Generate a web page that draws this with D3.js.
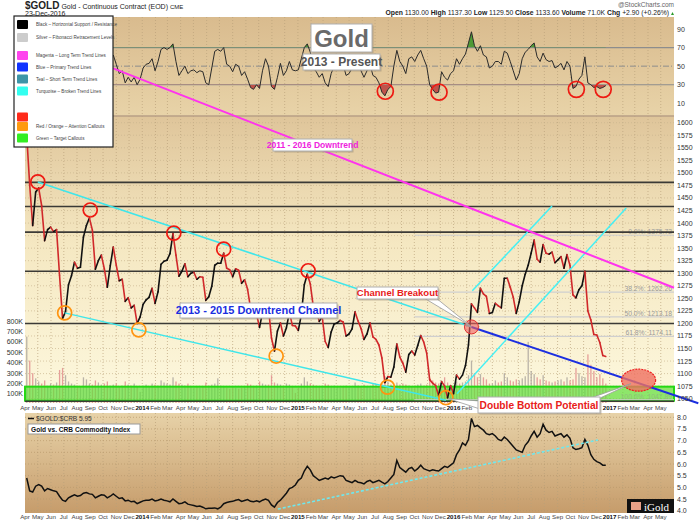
<!DOCTYPE html>
<html>
<head>
<meta charset="utf-8">
<script src="https://cdn.jsdelivr.net/npm/d3@7"></script>
<style>
  body { margin: 0; background: #fff; }
  svg { display: block; font-family: "Liberation Sans", Arial, sans-serif; }
</style>
</head>
<body>
<svg id="chart" width="699" height="523"></svg>
<script>
// weekly closes (Fridays, 5-Apr-2013 .. 23-Dec-2016)
var goldClose = [
  1575, 1476, 1395, 1462, 1470, 1435, 1365, 1387, 1392, 1383, 1387, 1296, 1210,
  1223, 1277, 1295, 1322, 1310, 1312, 1372, 1395, 1410, 1386, 1308, 1325, 1336,
  1309, 1272, 1315, 1352, 1316, 1285, 1288, 1244, 1251, 1231, 1236, 1200, 1213,
  1238, 1247, 1252, 1270, 1240, 1263, 1318, 1324, 1326, 1339, 1379, 1336, 1294,
  1304, 1319, 1293, 1300, 1302, 1288, 1293, 1292, 1246, 1253, 1274, 1316, 1320,
  1320, 1340, 1310, 1307, 1293, 1309, 1306, 1280, 1287, 1268, 1230, 1216, 1218,
  1192, 1222, 1239, 1231, 1171, 1145, 1185, 1201, 1175, 1191, 1222, 1196, 1195,
  1186, 1217, 1277, 1298, 1279, 1234, 1227, 1204, 1213, 1164, 1152, 1183, 1199,
  1201, 1206, 1203, 1175, 1179, 1189, 1223, 1205, 1190, 1168, 1179, 1201, 1173,
  1168, 1157, 1131, 1082, 1094, 1093, 1113, 1159, 1133, 1121, 1103, 1138, 1145,
  1137, 1156, 1176, 1163, 1141, 1088, 1081, 1076, 1056, 1084, 1075, 1052, 1076,
  1060, 1097, 1089, 1097, 1116, 1157, 1239, 1231, 1222, 1270, 1259, 1254, 1220,
  1222, 1240, 1235, 1231, 1290, 1290, 1272, 1252, 1220, 1243, 1275, 1298, 1316,
  1340, 1366, 1328, 1322, 1357, 1340, 1338, 1342, 1321, 1327, 1333, 1310, 1337, 1316,
  1257, 1251, 1267, 1275, 1304, 1225, 1207, 1178, 1177, 1162, 1136, 1134
];
var rsiValues = [
  30, 22, 28, 45, 50, 44, 32, 40, 42, 40, 42, 28, 22, 25, 45, 52, 58, 55, 56, 65,
  70, 68, 65, 45, 50, 52, 45, 38, 50, 62, 52, 42, 45, 32, 38, 33, 38, 30, 36,
  48, 52, 53, 58, 45, 55, 68, 70, 68, 70, 74, 55, 40, 45, 50, 42, 45, 46, 43, 45,
  44, 32, 30, 48, 66, 68, 66, 70, 52, 50, 44, 52, 50, 40, 44, 36, 27, 25, 30, 26,
  45, 58, 50, 28, 25, 38, 53, 40, 45, 55, 46, 45,
  46, 58, 70, 74, 65, 48, 44, 38, 42, 32, 28, 42, 50, 52, 50, 52, 40, 42, 48, 60,
  52, 45, 38, 45, 52, 40, 38, 32, 22, 18, 25, 28, 50, 67, 55, 50, 42, 58, 60, 55,
  62, 67, 58, 50, 30, 25, 21, 22, 44, 38, 35, 42,
  45, 58, 52, 58, 63, 75, 87, 72, 66, 72, 62, 60, 48, 50, 55, 55, 52, 66, 64, 55,
  45, 35, 42, 58, 65, 68, 72, 75, 60, 55, 64, 57, 55, 56, 48, 50, 53, 46, 55, 50,
  26, 28, 36, 40, 60, 32, 30, 27, 28, 26, 27, 29
];
var ratioValues = [
  5.40, 4.85, 4.80, 5.05, 5.12, 5.05, 4.85, 4.95, 4.90, 4.85, 4.82, 4.62, 4.45,
  4.40, 4.55, 4.62, 4.68, 4.62, 4.65, 4.75, 4.78, 4.72, 4.70, 4.55, 4.62, 4.68,
  4.66, 4.55, 4.62, 4.72, 4.62, 4.52, 4.55, 4.42, 4.45, 4.38, 4.40, 4.30, 4.36,
  4.42, 4.45, 4.45, 4.50, 4.42, 4.45, 4.50, 4.45, 4.42, 4.38, 4.50, 4.40, 4.30,
  4.32, 4.38, 4.28, 4.25, 4.22, 4.18, 4.20, 4.15, 4.08, 4.10, 4.10, 4.12, 4.08,
  4.15, 4.30, 4.35, 4.38, 4.40, 4.45, 4.48, 4.40, 4.44, 4.48, 4.40, 4.38, 4.42,
  4.38, 4.45, 4.50, 4.44, 4.25, 4.15, 4.35, 4.45, 4.60, 4.75, 4.95, 5.00, 5.10,
  5.30, 5.40, 5.70, 5.90, 5.75, 5.50, 5.40, 5.30, 5.35, 5.40, 5.35, 5.45, 5.40,
  5.45, 5.50, 5.48, 5.30, 5.25, 5.20, 5.30, 5.22, 5.20, 5.15, 5.25, 5.30, 5.20,
  5.25, 5.30, 5.22, 5.15, 5.25, 5.40, 5.55, 6.15, 5.85, 5.75, 5.65, 5.80, 5.85,
  5.70, 5.80, 5.95, 5.80, 5.75, 5.70, 5.75, 5.72, 5.70, 5.80, 5.90, 5.85, 5.95,
  6.05, 6.40, 6.60, 6.90, 6.80, 7.05, 7.95, 7.60, 7.65, 7.55, 7.45, 7.30, 7.25,
  7.30, 7.20, 7.05, 7.00, 7.15, 7.05, 6.90, 6.75, 6.60, 6.55, 6.50, 6.80, 6.95,
  7.20, 7.40, 7.15, 7.30, 7.70, 7.45, 7.35, 7.40, 7.20, 7.25, 7.30, 7.15, 7.25, 7.10,
  6.70, 6.62, 6.65, 6.70, 7.05, 6.80, 6.40, 6.20, 6.10, 6.05, 5.95, 5.95
];
var volumeK = [
  650, 420, 300, 250, 220, 200, 230, 180, 200, 190, 210, 330, 350, 280, 220, 200,
  190, 180, 170, 260, 240, 200, 190, 230, 210, 190, 200, 220, 180, 190, 200, 170,
  180, 220, 190, 180, 200, 170, 120,
  180, 190, 170, 200, 190, 180, 230, 210, 200, 190, 260, 220, 200, 190, 180, 200,
  170, 160, 170, 160, 170, 210, 180, 190, 200, 250, 180, 170, 160, 150, 170, 160,
  150, 160, 170, 200, 190, 170, 180, 220, 200, 190, 190, 280, 210, 200, 190, 180,
  200, 190, 170, 110,
  160, 200, 260, 220, 200, 190, 180, 170, 180, 200, 190, 170, 180, 170, 160, 170,
  180, 170, 160, 210, 180, 170, 190, 170, 160, 200, 190, 170, 200, 270, 220, 190,
  180, 210, 190, 200, 190, 180, 170, 180, 190, 200, 180, 190, 250, 230, 210, 200,
  190, 260, 210, 120,
  180, 220, 200, 210, 220, 280, 420, 300, 260, 290, 260, 240, 200, 200, 230, 210,
  220, 300, 260, 230, 220, 240, 230, 250, 270, 600, 320, 290, 260, 240, 280, 230,
  220, 210, 220, 230, 240, 220, 260, 230, 240, 350, 300, 270, 260, 480, 380, 320,
  260, 290, 250, 200
];

// levels
var supportLevels = [1481, 1433, 1382, 1304, 1200, 1045];
var fibLevels = [1375.72, 1262.26, 1213.18, 1174.11, 1047.89];
var fibLabels = ["0.0%: 1375.72", "38.2%: 1262.26", "50.0%: 1213.18", "61.8%: 1174.11", "100.0%: 1047.89"];
var priceTicks = d3.range(1050, 1601, 25);
var rsiTicks = [10, 30, 50, 70, 90];
var ratioTicks = [4.0, 4.5, 5.0, 5.5, 6.0, 6.5, 7.0, 7.5, 8.0];
var volTicks = [100, 200, 300, 400, 500, 600, 700, 800];

// callouts [date, value]
var redCallouts = [["2013-05-01", 1482], ["2013-09-01", 1426], ["2014-03-16", 1380], ["2014-07-11", 1348], ["2015-01-25", 1305]];
var orangeCallouts = [["2013-07-03", 1221], ["2013-12-24", 1187], ["2014-11-11", 1135], ["2015-07-30", 1073], ["2015-12-14", 1052]];
var rsiCallouts = [["2015-07-25", 23], ["2015-11-28", 22], ["2016-10-15", 25], ["2016-12-17", 25]];

// trend lines [[date, value], [date, value]]
var magentaLine = [["2013-04-01", 1777], ["2017-06-01", 1271]];
var channelTop = [["2013-05-01", 1482], ["2016-02-12", 1193]];
var channelBottom = [["2013-07-03", 1221], ["2015-12-14", 1047]];
var blueLine = [["2016-02-12", 1193], ["2017-07-28", 1041]];
var riseUpper = [["2016-02-14", 1265], ["2016-08-19", 1434]];
var riseLower = [["2016-01-09", 1060], ["2017-02-09", 1430]];
var ratioTrend = [["2014-11-15", 4.07], ["2016-12-05", 7.03]];

var parse = d3.timeParse("%Y-%m-%d");
var weeks = d3.timeFriday.range(new Date(2013, 3, 5), new Date(2016, 11, 24));

var L = 25, R = 674;
var RSI_TOP = 17, RSI_BOT = 116, PX_TOP = 116, PX_BOT = 403, LO_TOP = 413, LO_BOT = 513;

var x = d3.scaleTime().domain([new Date(2013, 3, 1), new Date(2017, 5, 1)]).range([L, R]);
var yRsi = d3.scaleLinear().domain([10, 90]).range([103.3, 29]);
var yPx = d3.scaleLinear().domain([1050, 1600]).range([398.7, 122.7]);
var yVol = d3.scaleLinear().domain([0, 800]).range([404.4, 321]);
var yRatio = d3.scaleLinear().domain([4, 8]).range([510.7, 417.3]);

var svg = d3.select("#chart");
var defs = svg.append("defs");

function grad(id, stops) {
  var g = defs.append("linearGradient").attr("id", id).attr("x1", 0).attr("y1", 0).attr("x2", 0).attr("y2", 1);
  stops.forEach(function(s) { g.append("stop").attr("offset", s[0]).attr("stop-color", s[1]); });
}
grad("gRsi", [[0, "#d9bb8e"], [1, "#e8d3a8"]]);
grad("gPx", [[0, "#dfc59a"], [0.45, "#f5e8c2"], [1, "#fdf8de"]]);
grad("gLo", [[0, "#e7d2a8"], [1, "#c69c6b"]]);

defs.append("clipPath").attr("id", "clipPx").append("rect")
  .attr("x", L).attr("y", PX_TOP).attr("width", R - L).attr("height", PX_BOT - PX_TOP);
defs.append("clipPath").attr("id", "clipHi").append("rect")
  .attr("x", L).attr("y", RSI_TOP).attr("width", R - L).attr("height", yRsi(70) - RSI_TOP);
defs.append("clipPath").attr("id", "clipLow").append("rect")
  .attr("x", L).attr("y", yRsi(30)).attr("width", R - L).attr("height", RSI_BOT - yRsi(30));

// panel backgrounds
svg.append("rect").attr("x", L).attr("y", RSI_TOP).attr("width", R - L).attr("height", RSI_BOT - RSI_TOP).attr("fill", "url(#gRsi)");
svg.append("rect").attr("x", L).attr("y", PX_TOP).attr("width", R - L).attr("height", PX_BOT - PX_TOP).attr("fill", "url(#gPx)");
svg.append("rect").attr("x", L).attr("y", LO_TOP).attr("width", R - L).attr("height", LO_BOT - LO_TOP).attr("fill", "url(#gLo)");

var months = d3.timeMonth.range(new Date(2013, 3, 1), new Date(2017, 5, 1));

// grid
var grid = svg.append("g").attr("stroke-dasharray", "1,2").attr("stroke-width", 0.7);
[[RSI_TOP, RSI_BOT], [PX_TOP, PX_BOT], [LO_TOP, LO_BOT]].forEach(function(p) {
  grid.selectAll(null).data(months.slice(1)).enter().append("line")
    .attr("x1", d => x(d)).attr("x2", d => x(d))
    .attr("y1", p[0]).attr("y2", p[1]).attr("stroke", "#b9a07a");
});
grid.selectAll(null).data(priceTicks).enter().append("line")
  .attr("x1", L).attr("x2", R).attr("y1", d => yPx(d)).attr("y2", d => yPx(d)).attr("stroke", "#c8b58e");
grid.selectAll(null).data(ratioTicks).enter().append("line")
  .attr("x1", L).attr("x2", R).attr("y1", d => yRatio(d)).attr("y2", d => yRatio(d)).attr("stroke", "#b8986a");

// ---- RSI panel
var rsiG = svg.append("g");
rsiG.selectAll(null).data([70, 30]).enter().append("line")
  .attr("x1", L).attr("x2", R).attr("y1", d => yRsi(d)).attr("y2", d => yRsi(d))
  .attr("stroke", "#8d8d8d").attr("stroke-width", 1.2);
rsiG.append("line").attr("x1", L).attr("x2", R).attr("y1", yRsi(50)).attr("y2", yRsi(50))
  .attr("stroke", "#8d8d8d").attr("stroke-dasharray", "6,2,1,2");
rsiG.append("path").datum(rsiValues).attr("clip-path", "url(#clipHi)")
  .attr("fill", "#4e9a36")
  .attr("d", d3.area().x((d, i) => x(weeks[i])).y0(yRsi(70)).y1(d => yRsi(d)));
rsiG.append("path").datum(rsiValues).attr("clip-path", "url(#clipLow)")
  .attr("fill", "#c0524a")
  .attr("d", d3.area().x((d, i) => x(weeks[i])).y0(yRsi(30)).y1(d => yRsi(d)));
rsiG.append("path").datum(rsiValues).attr("fill", "none").attr("stroke", "#2a2a2a").attr("stroke-width", 1)
  .attr("d", d3.line().x((d, i) => x(weeks[i])).y(d => yRsi(d)));
svg.append("line").attr("x1", L).attr("x2", R).attr("y1", RSI_BOT).attr("y2", RSI_BOT)
  .attr("stroke", "#b89f86").attr("stroke-width", 1.5);

// ---- volume
var volG = svg.append("g").attr("clip-path", "url(#clipPx)");
volG.selectAll(null).data(volumeK).enter().append("rect")
  .attr("x", (d, i) => x(weeks[i]) - 0.6).attr("width", 1.3)
  .attr("y", d => yVol(d)).attr("height", d => yVol(0) - yVol(d))
  .attr("fill", (d, i) => i > 0 && goldClose[i] < goldClose[i - 1] ? "#e08a8a" : "#a9a39b")
  .attr("opacity", 0.8);

// green target band
svg.append("rect").attr("x", L).attr("width", R - L)
  .attr("y", yPx(1074)).attr("height", yPx(1046) - yPx(1074))
  .attr("fill", "#5ede3a").attr("fill-opacity", 0.7)
  .attr("stroke", "#26d814").attr("stroke-width", 2);

// fib retracement lines
var fibStart = parse("2015-10-01");
svg.selectAll(null).data(fibLevels).enter().append("line")
  .attr("x1", x(fibStart)).attr("x2", R).attr("y1", d => yPx(d)).attr("y2", d => yPx(d))
  .attr("stroke", "#cfcfcf").attr("stroke-width", 1.2);
svg.selectAll(null).data(fibLevels).enter().append("text")
  .attr("x", R - 2).attr("y", d => yPx(d) - 1).attr("text-anchor", "end")
  .attr("font-size", 6.8).attr("fill", (d, i) => i === 4 ? "#8fbf7a" : "#9a9a9a")
  .text((d, i) => fibLabels[i]);

// black support / resistance
svg.selectAll(null).data(supportLevels).enter().append("line")
  .attr("x1", L).attr("x2", R).attr("y1", d => yPx(d)).attr("y2", d => yPx(d))
  .attr("stroke", "#3b3a36").attr("stroke-width", 1.6);

// price line, black up / red down
var pxG = svg.append("g").attr("clip-path", "url(#clipPx)");
pxG.selectAll(null).data(goldClose.slice(1)).enter().append("line")
  .attr("x1", (d, i) => x(weeks[i])).attr("y1", (d, i) => yPx(goldClose[i]))
  .attr("x2", (d, i) => x(weeks[i + 1])).attr("y2", d => yPx(d))
  .attr("stroke", (d, i) => d >= goldClose[i] ? "#111" : "#d0282a")
  .attr("stroke-width", 1.6).attr("stroke-linecap", "round");

// trend lines
function trend(pts, color, w, yS, dash) {
  var l = svg.append("line")
    .attr("x1", x(parse(pts[0][0]))).attr("y1", yS(pts[0][1]))
    .attr("x2", x(parse(pts[1][0]))).attr("y2", yS(pts[1][1]))
    .attr("stroke", color).attr("stroke-width", w);
  if (dash) l.attr("stroke-dasharray", dash);
  return l;
}
trend(channelTop, "#3fe6ea", 1.5, yPx);
trend(channelBottom, "#3fe6ea", 1.5, yPx);
trend(blueLine, "#1c2fe0", 2, yPx);
trend(riseUpper, "#44f0f4", 1.5, yPx);
trend(riseLower, "#44f0f4", 1.5, yPx);
trend(magentaLine, "#ff33ee", 2, yPx);

// callout circles
function circles(list, color, yS, r) {
  svg.selectAll(null).data(list).enter().append("circle")
    .attr("cx", d => x(parse(d[0]))).attr("cy", d => yS(d[1])).attr("r", r)
    .attr("fill", "none").attr("stroke", color).attr("stroke-width", 1.7);
}
circles(redCallouts, "#ee1a12", yPx, 7);
circles(orangeCallouts, "#ff9410", yPx, 7);
circles(rsiCallouts, "#ee1a12", yRsi, 8);

// breakout marker
svg.append("circle").attr("cx", x(parse("2016-02-12"))).attr("cy", yPx(1193)).attr("r", 7)
  .attr("fill", "#f06060").attr("fill-opacity", 0.6).attr("stroke", "#e03030").attr("stroke-width", 1);

// target ellipse
svg.append("ellipse").attr("cx", x(parse("2017-03-10"))).attr("cy", yPx(1087)).attr("rx", 17).attr("ry", 11)
  .attr("fill", "#ef7060").attr("fill-opacity", 0.8).attr("stroke", "#ee2020").attr("stroke-width", 1.2)
  .attr("stroke-dasharray", "2,1");

// ---- axes labels
var axisG = svg.append("g").attr("font-size", 7).attr("fill", "#333");
axisG.selectAll(null).data(priceTicks).enter().append("text")
  .attr("x", R + 3).attr("y", d => yPx(d) + 2.5).text(d => d);
axisG.selectAll(null).data(rsiTicks).enter().append("text")
  .attr("x", R + 3).attr("y", d => yRsi(d) + 2.5).text(d => d);
axisG.selectAll(null).data(ratioTicks).enter().append("text")
  .attr("x", R + 3).attr("y", d => yRatio(d) + 2.5).text(d => d.toFixed(1));
axisG.selectAll(null).data(volTicks).enter().append("text")
  .attr("x", L - 2).attr("y", d => yVol(d) + 2.5).attr("text-anchor", "end").text(d => d + "K");

// month labels; the top row is partly covered by the "Double Bottom" box
var fmtMonth = d3.timeFormat("%b");
[[410, months.filter(d => x(d) < 474 || x(d) > 603)], [519, months]].forEach(function(row) {
  axisG.selectAll(null).data(row[1]).enter().append("text")
    .attr("x", d => x(d)).attr("y", row[0]).attr("text-anchor", "middle")
    .attr("font-size", 6.2)
    .attr("font-weight", d => d.getMonth() === 0 ? "bold" : null)
    .attr("fill", d => d.getMonth() === 0 ? "#111" : "#444")
    .text(d => d.getMonth() === 0 ? d.getFullYear() : fmtMonth(d));
});

// callout boxes
function box(x0, y0, w, h, txt, color, size, narrow) {
  svg.append("rect").attr("x", x0 + 1.5).attr("y", y0 + 1.5).attr("width", w).attr("height", h).attr("fill", "#9a8a70").attr("opacity", 0.5);
  svg.append("rect").attr("x", x0).attr("y", y0).attr("width", w).attr("height", h)
    .attr("fill", "#fff").attr("stroke", "#b0b0b0").attr("stroke-width", 1);
  svg.append("text").attr("x", x0 + w / 2).attr("y", y0 + h / 2 + size * 0.36)
    .attr("text-anchor", "middle").attr("font-size", size).attr("font-weight", "bold")
    .attr("font-family", narrow ? "'Liberation Sans Narrow', 'Liberation Sans', Arial" : null)
    .attr("fill", color).text(txt);
}
function pointer(bx1, by1, bx2, by2, date, price) {
  var tx = x(parse(date)), ty = yPx(price);
  svg.append("polygon").attr("points", [[bx1, by1], [bx2, by2], [tx, ty]].map(p => p.join(",")).join(" "))
    .attr("fill", "#fff").attr("stroke", "#9a9a9a").attr("stroke-width", 0.8);
}
pointer(424, 298, 436, 298, "2016-02-10", 1195);
box(357, 287, 81, 12, "Channel Breakout", "#e8201a", 9.5, true);
pointer(480, 401, 480, 409, "2015-12-20", 1050);
pointer(588, 399, 598, 399, "2017-02-20", 1080);
box(478, 397, 122, 16, "Double Bottom Potential", "#e8201a", 10.2);
box(180, 303, 157, 15, "2013 - 2015 Downtrend Channel", "#1a2fe0", 11);
box(273, 139, 79, 12, "2011 - 2016 Downtrend", "#ee22dd", 8.5, true);
box(311, 24, 61, 28, "Gold", "#6a6a6a", 24);
box(303, 54, 77, 16, "2013 - Present", "#555", 12);

// ---- lower panel: Gold / CRB
svg.append("path").datum(ratioValues).attr("fill", "none").attr("stroke", "#111").attr("stroke-width", 1.5)
  .attr("d", d3.line().x((d, i) => x(weeks[i])).y(d => yRatio(d)));
trend(ratioTrend, "#6ee8ee", 1.6, yRatio, "3,2");
svg.append("line").attr("x1", 28).attr("x2", 34).attr("y1", 418.5).attr("y2", 418.5).attr("stroke", "#111").attr("stroke-width", 1.5);
svg.append("text").attr("x", 36).attr("y", 421).attr("font-size", 6.5).attr("fill", "#333").text("$GOLD:$CRB 5.95");
svg.append("rect").attr("x", 28).attr("y", 424).attr("width", 112).attr("height", 10).attr("fill", "#fff").attr("stroke", "#999");
svg.append("text").attr("x", 31).attr("y", 431.5).attr("font-size", 6.6).attr("font-weight", "bold").attr("fill", "#111").text("Gold vs. CRB Commodity Index");

// iGold logo
svg.append("rect").attr("x", 627).attr("y", 499).attr("width", 47).attr("height", 14).attr("fill", "#111");
svg.append("rect").attr("x", 631).attr("y", 502).attr("width", 10).attr("height", 8).attr("fill", "#e8a088");
svg.append("text").attr("x", 644).attr("y", 511).attr("font-size", 11).attr("font-family", "'Liberation Serif', serif")
  .attr("fill", "#fff").text("iGold");

// ---- legend
var legendItems = [
  ["#000", "Black \u2013 Horizontal Support / Resistance", 20],
  ["#cccccc", "Silver \u2013 Fibonacci Retracement Levels", 33],
  ["#ff44ee", "Magenta \u2013 Long Term Trend Lines", 51],
  ["#1133ff", "Blue \u2013 Primary Trend Lines", 62.5],
  ["#3d95a8", "Teal \u2013 Short Term Trend Lines", 74.5],
  ["#33fff0", "Turquoise \u2013 Broken Trend Lines", 86.5],
  ["#ff2a1a", "", 112.5],
  ["#ff9a10", "Red / Orange \u2013 Attention Callouts", 122],
  ["#33ee22", "Green \u2013 Target Callouts", 133.5]
];
var lg = svg.append("g");
lg.append("rect").attr("x", 14).attr("y", 16).attr("width", 99).attr("height", 131)
  .attr("fill", "#fff").attr("stroke", "#222").attr("stroke-width", 1.2);
lg.selectAll(null).data(legendItems).enter().append("rect")
  .attr("x", 17).attr("y", d => d[2]).attr("width", 11).attr("height", 9).attr("rx", 1)
  .attr("fill", d => d[0]);
lg.selectAll(null).data(legendItems).enter().append("text")
  .attr("x", 36).attr("y", d => d[2] + 6).attr("font-size", 4.6).attr("fill", "#444").text(d => d[1]);

// ---- header
var hd = svg.append("g").attr("fill", "#222");
var t1 = hd.append("text").attr("x", 25).attr("y", 9);
t1.append("tspan").attr("font-size", 10).attr("font-weight", "bold").text("$GOLD");
t1.append("tspan").attr("font-size", 7).text(" Gold - Continuous Contract (EOD) ");
t1.append("tspan").attr("font-size", 6).text("CME");
hd.append("text").attr("x", 25).attr("y", 16).attr("font-size", 7).text("23-Dec-2016");
hd.append("text").attr("x", 674).attr("y", 7).attr("text-anchor", "end").attr("font-size", 6.5).attr("fill", "#666").text("@StockCharts.com");
var t2 = hd.append("text").attr("x", 669).attr("y", 15).attr("text-anchor", "end").attr("font-size", 6.8);
[["Open", " 1130.00 "], ["High", " 1137.30 "], ["Low", " 1129.50 "], ["Close", " 1133.60 "], ["Volume", " 71.0K "], ["Chg", " +2.90 (+0.26%)"]]
  .forEach(function(p) {
    t2.append("tspan").attr("font-weight", "bold").text(p[0]);
    t2.append("tspan").text(p[1]);
  });
hd.append("path").attr("d", "M671,15 L674,15 L672.5,12 Z").attr("fill", "#2a9a2a");
</script>
</body>
</html>
